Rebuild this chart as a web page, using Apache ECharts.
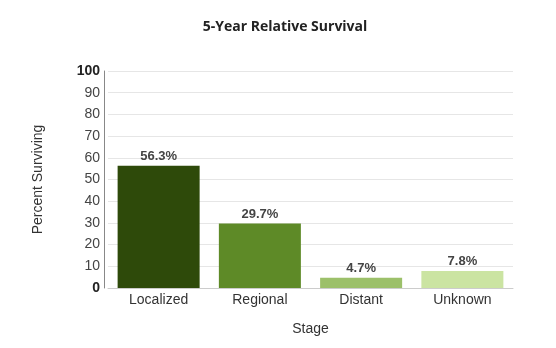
<!DOCTYPE html>
<html><head><meta charset="utf-8">
<script src="https://cdn.jsdelivr.net/npm/echarts@6/dist/echarts.min.js"></script>
<style>html,body{margin:0;padding:0;background:#fff}#c{width:556px;height:348px}</style>
</head><body><div id="c"></div>
<script>
const categories = ["Localized", "Regional", "Distant", "Unknown"];
const values = [56.3, 29.7, 4.7, 7.8];
const barColors = ["#2e4a0a", "#5e8a27", "#9cc06a", "#cbe4a2"];
const yTicks = [0, 10, 20, 30, 40, 50, 60, 70, 80, 90, 100];

const chart = echarts.init(document.getElementById('c'));
chart.setOption({
  animation: false,
  backgroundColor: '#fff',
  title: {
    text: '5-Year Relative Survival', left: 280, top: 15, textAlign: 'center',
    textStyle: {fontFamily: 'Open Sans', fontWeight: 'bold', fontSize: 14, color: '#222'}
  },
  grid: {left: 108, right: 43, top: 71, bottom: 60},
  xAxis: {
    type: 'category', data: categories,
    name: 'Stage', nameLocation: 'middle', nameGap: 34,
    nameTextStyle: {fontFamily: 'Liberation Sans', fontSize: 14, color: '#333'},
    axisLine: {show: true, lineStyle: {color: '#ccc'}},
    axisTick: {show: false},
    axisLabel: {fontFamily: 'Liberation Sans', fontSize: 14, color: '#333', margin: 5}
  },
  yAxis: {
    type: 'value', min: 0, max: 100, interval: 10, offset: 4,
    name: 'Percent Surviving', nameLocation: 'middle', nameGap: 59,
    nameTextStyle: {fontFamily: 'Liberation Sans', fontSize: 14, color: '#333'},
    axisLine: {show: true, lineStyle: {color: '#888'}},
    axisTick: {show: false},
    splitLine: {lineStyle: {color: '#e6e6e6'}},
    axisLabel: {
      fontFamily: 'Liberation Sans', fontSize: 14, color: '#444', margin: 4,
      formatter: v => (v === 0 || v === 100) ? '{b|' + v + '}' : String(v),
      rich: {b: {fontWeight: 'bold', fontSize: 14, color: '#222', fontFamily: 'Liberation Sans'}}
    }
  },
  series: [{
    type: 'bar', barCategoryGap: '19%',
    data: values.map((v, i) => ({value: v, itemStyle: {color: barColors[i]}})),
    label: {
      show: true, position: 'top', distance: 3,
      formatter: p => p.value.toFixed(1) + '%',
      fontFamily: 'Liberation Sans', fontWeight: 'bold', fontSize: 13, color: '#444'
    }
  }]
});
</script></body></html>
